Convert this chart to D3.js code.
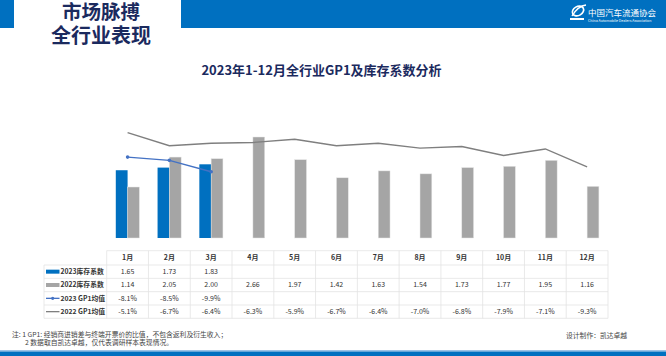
<!DOCTYPE html>
<html><head><meta charset="utf-8">
<script src="https://cdn.jsdelivr.net/npm/d3@7"></script>
<style>body{margin:0;background:#fff;}svg{display:block;font-family:"Noto Sans CJK SC","Noto Sans",sans-serif;}</style>
</head><body>
<svg id="c" width="666" height="356"></svg>
<script>
const months = ["1月","2月","3月","4月","5月","6月","7月","8月","9月","10月","11月","12月"];
const inv2023 = [1.65, 1.73, 1.83, null, null, null, null, null, null, null, null, null];
const inv2022 = [1.14, 2.05, 2.00, 2.66, 1.97, 1.42, 1.63, 1.54, 1.73, 1.77, 1.95, 1.16];
const gp2023 = [-8.1, -8.5, -9.9, null, null, null, null, null, null, null, null, null];
const gp2022 = [-5.1, -6.7, -6.4, -6.3, -5.9, -6.7, -6.4, -7.0, -6.8, -7.9, -7.1, -9.3];
const seriesNames = ["2023库存系数", "2022库存系数", "2023 GP1均值", "2022 GP1均值"];

const BLUE = "#0070c0", GRAY = "#a5a5a5", LBLUE = "#4472c4", LGRAY = "#7f7f7f", NAVY = "#1b2a5e";
const svg = d3.select("#c");

// Header
svg.append("rect").attr("x",0).attr("y",0).attr("width",666).attr("height",28).attr("fill",BLUE);
svg.append("rect").attr("x",14).attr("y",0).attr("width",167).attr("height",28).attr("fill","#fff");
svg.append("text").attr("x",101).attr("y",19).attr("text-anchor","middle").attr("font-size",19.5).attr("font-weight","bold").attr("fill",NAVY).text("市场脉搏");
svg.append("text").attr("x",101).attr("y",42.5).attr("text-anchor","middle").attr("font-size",20).attr("font-weight","bold").attr("fill",NAVY).text("全行业表现");
// Logo
const lg = svg.append("g");
lg.append("ellipse").attr("cx",578).attr("cy",11).attr("rx",6).attr("ry",4.5).attr("fill","none").attr("stroke","#fff").attr("stroke-width",1.6).attr("transform","rotate(-30 578 11)");
lg.append("path").attr("d","M572,16 Q578,6 586,5").attr("fill","none").attr("stroke","#fff").attr("stroke-width",1.4);
lg.append("rect").attr("x",570).attr("y",18).attr("width",14).attr("height",2).attr("fill","#fff");
lg.append("text").attr("x",588).attr("y",16).attr("font-size",8.5).attr("fill","#fff").text("中国汽车流通协会");
lg.append("text").attr("x",588).attr("y",22).attr("font-size",3.6).attr("fill","#fff").text("China Automobile Dealers Association");

// Title
svg.append("text").attr("x",321.5).attr("y",74.5).attr("text-anchor","middle").attr("font-size",13).attr("font-weight","bold").attr("fill",NAVY).text("2023年1-12月全行业GP1及库存系数分析");

// Scales
const x = d3.scaleBand().domain(months).range([106.7, 608]).paddingInner(0).paddingOuter(0);
const y = d3.scaleLinear().domain([-0.41, 2.66]).range([238, 137]);
const y2 = d3.scaleLinear().domain([-5.1, -9.9]).range([132.7, 171.7]);
const bw = 11.8;

const gBars = svg.append("g");
months.forEach((m,i)=>{
  const cx = x(m) + x.bandwidth()/2;
  if (inv2023[i] != null) gBars.append("rect").attr("x",cx-bw).attr("y",y(inv2023[i])).attr("width",bw).attr("height",y(-0.41)-y(inv2023[i])).attr("fill",BLUE);
  gBars.append("rect").attr("x",cx).attr("y",y(inv2022[i])).attr("width",bw).attr("height",y(-0.41)-y(inv2022[i])).attr("fill",GRAY).attr("stroke","#e6e6e6").attr("stroke-width",0.5);
});

const cxf = (d,i)=> x(months[i]) + x.bandwidth()/2;
const l22 = d3.line().defined(d=>d!=null).x(cxf).y(d=>y2(d));
svg.append("path").attr("d",l22(gp2022)).attr("fill","none").attr("stroke",LGRAY).attr("stroke-width",1.4);
svg.append("path").attr("d",l22(gp2023)).attr("fill","none").attr("stroke",LBLUE).attr("stroke-width",1.4);
gp2023.forEach((d,i)=>{ if(d!=null) svg.append("circle").attr("cx",cxf(d,i)).attr("cy",y2(d)).attr("r",1.8).attr("fill",LBLUE); });

// Table
const tTop = 250.7, hH = 14.3, rH = 13.33, labX = 44, colX0 = 106.7, colX1 = 608;
const grid = svg.append("g").attr("stroke","#e3e3e3").attr("stroke-width",0.8);
grid.append("line").attr("x1",colX0).attr("x2",colX1).attr("y1",tTop).attr("y2",tTop);
for (let r=0;r<=4;r++){ const yy = tTop+hH+r*rH; grid.append("line").attr("x1",labX).attr("x2",colX1).attr("y1",yy).attr("y2",yy); }
grid.append("line").attr("x1",labX).attr("x2",labX).attr("y1",tTop+hH).attr("y2",tTop+hH+4*rH);
months.forEach((m,i)=>{ grid.append("line").attr("x1",x(m)).attr("x2",x(m)).attr("y1",tTop).attr("y2",tTop+hH+4*rH); });
grid.append("line").attr("x1",colX1).attr("x2",colX1).attr("y1",tTop).attr("y2",tTop+hH+4*rH);

const tt = svg.append("g").attr("font-size",7).attr("fill","#333").attr("text-anchor","middle");
months.forEach((m,i)=>{
  const cx = x(m)+x.bandwidth()/2;
  tt.append("text").attr("x",cx).attr("y",tTop+hH/2+2.5).attr("font-weight","bold").text(m);
  const rows = [inv2023[i]!=null?inv2023[i].toFixed(2):"", inv2022[i].toFixed(2), gp2023[i]!=null?gp2023[i].toFixed(1)+"%":"", gp2022[i].toFixed(1)+"%"];
  rows.forEach((s,r)=>{ tt.append("text").attr("x",cx).attr("y",tTop+hH+r*rH+rH/2+2.5).text(s); });
});
// Legend labels
const lgd = svg.append("g");
seriesNames.forEach((n,r)=>{
  const cy = tTop+hH+r*rH+rH/2;
  if (r===0) lgd.append("rect").attr("x",46).attr("y",cy-2).attr("width",13.5).attr("height",4).attr("fill",BLUE);
  if (r===1) lgd.append("rect").attr("x",46).attr("y",cy-2).attr("width",13.5).attr("height",4).attr("fill",GRAY);
  if (r===2){ lgd.append("line").attr("x1",46).attr("x2",59.5).attr("y1",cy).attr("y2",cy).attr("stroke",LBLUE).attr("stroke-width",1.3); lgd.append("circle").attr("cx",52.7).attr("cy",cy).attr("r",1.6).attr("fill",LBLUE); }
  if (r===3) lgd.append("line").attr("x1",46).attr("x2",59.5).attr("y1",cy).attr("y2",cy).attr("stroke",LGRAY).attr("stroke-width",1.3);
  lgd.append("text").attr("x",60.5).attr("y",cy+2.5).attr("font-size",6.8).attr("font-weight","bold").attr("fill","#333").text(n);
});

// Footnotes
const fn = svg.append("g").attr("font-size",6.8).attr("fill","#444");
fn.append("text").attr("x",12).attr("y",336.5).text("注: 1 GP1: 经销商进销差与终端开票价的比值，不包含返利及衍生收入；");
fn.append("text").attr("x",25).attr("y",344.5).text("2 数据取自凯达卓越，仅代表调研样本表现情况。");
fn.append("text").attr("x",566).attr("y",338).text("设计制作：凯达卓越");
// Bottom band
svg.append("rect").attr("x",0).attr("y",350).attr("width",666).attr("height",1.5).attr("fill","#9dc3e6");
svg.append("rect").attr("x",0).attr("y",351.5).attr("width",666).attr("height",4.5).attr("fill",BLUE);
</script>
</body></html>
